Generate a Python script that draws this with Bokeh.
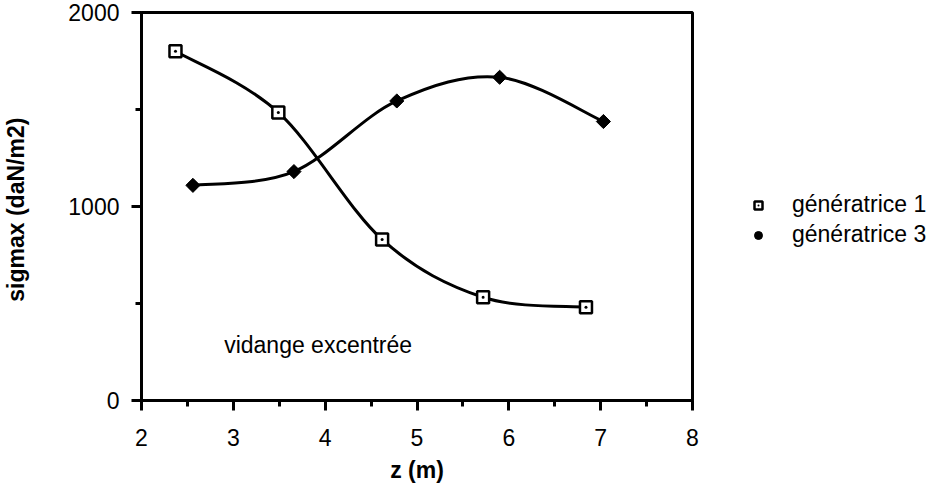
from bokeh.plotting import figure
from bokeh.models import (Range1d, Label, Legend, LegendItem, ColumnDataSource,
                          SingleIntervalTicker)
from bokeh.embed import file_html
from bokeh.resources import INLINE
import math

# ---- data ----
z_g1 = [2.37, 3.49, 4.62, 5.72, 6.84]
s_g1 = [1800, 1485, 830, 532, 481]
z_g3 = [2.56, 3.66, 4.78, 5.90, 7.03]
s_g3 = [1109, 1180, 1544, 1666, 1438]
label_g1 = "génératrice 1"
label_g3 = "génératrice 3"
x_label = "z (m)"
y_label = "sigmax  (daN/m2)"
note = "vidange excentrée"

FONT = "Liberation Sans"
FS = "23px"


def smooth_segments(xs, ys):
    """Catmull-Rom smoothing expressed as cubic Bezier control points."""
    n = len(xs)
    d = dict(x0=[], y0=[], x1=[], y1=[], cx0=[], cy0=[], cx1=[], cy1=[])
    for i in range(n - 1):
        im = max(i - 1, 0)
        ip = min(i + 2, n - 1)
        d["x0"].append(xs[i]); d["y0"].append(ys[i])
        d["x1"].append(xs[i + 1]); d["y1"].append(ys[i + 1])
        d["cx0"].append(xs[i] + (xs[i + 1] - xs[im]) / 6.0)
        d["cy0"].append(ys[i] + (ys[i + 1] - ys[im]) / 6.0)
        d["cx1"].append(xs[i + 1] - (xs[ip] - xs[i]) / 6.0)
        d["cy1"].append(ys[i + 1] - (ys[ip] - ys[i]) / 6.0)
    return ColumnDataSource(d)


p = figure(frame_width=551, frame_height=388,
           x_range=Range1d(2, 8), y_range=Range1d(0, 2000),
           output_backend="svg", toolbar_location=None,
           min_border_left=135, min_border_right=244,
           min_border_top=12, min_border_bottom=60)

p.grid.visible = False
p.outline_line_color = "black"
p.outline_line_width = 3
p.background_fill_color = "white"
p.border_fill_color = "white"

p.xaxis.ticker = SingleIntervalTicker(interval=1, num_minor_ticks=2)
p.yaxis.ticker = SingleIntervalTicker(interval=1000, num_minor_ticks=2)

for ax in (p.xaxis[0], p.yaxis[0]):
    ax.axis_line_width = 3
    ax.axis_line_color = "black"
    ax.major_tick_line_width = 3
    ax.minor_tick_line_width = 3
    ax.major_tick_in = 0
    ax.major_tick_out = 10
    ax.minor_tick_in = 0
    ax.minor_tick_out = 6
    ax.major_label_text_font = FONT
    ax.major_label_text_font_size = FS
    ax.major_label_text_color = "black"
    ax.axis_label_text_font = FONT
    ax.axis_label_text_font_size = FS
    ax.axis_label_text_font_style = "bold"
    ax.axis_label_text_color = "black"

p.xaxis.axis_label = x_label
p.yaxis.axis_label = y_label
p.xaxis.major_label_standoff = 18
p.xaxis.axis_label_standoff = 8
p.yaxis.major_label_standoff = 12
p.yaxis.axis_label_standoff = 36

# smoothed curves
p.bezier(x0="x0", y0="y0", x1="x1", y1="y1", cx0="cx0", cy0="cy0",
         cx1="cx1", cy1="cy1", source=smooth_segments(z_g1, s_g1),
         line_color="black", line_width=3)
p.bezier(x0="x0", y0="y0", x1="x1", y1="y1", cx0="cx0", cy0="cy0",
         cx1="cx1", cy1="cy1", source=smooth_segments(z_g3, s_g3),
         line_color="black", line_width=3)

# markers
r1 = p.scatter(z_g1, s_g1, marker="square_dot", size=12, fill_color="white",
               line_color="black", line_width=2.5)
# round dot used for the legend symbol; it sits hidden under the diamonds
r3_leg = p.scatter(z_g3, s_g3, marker="circle", size=9.5, fill_color="black",
                   line_color="black", line_width=1)
r3 = p.scatter(z_g3, s_g3, marker="square", angle=math.pi / 4, size=10,
               fill_color="black", line_color="black", line_width=1)

legend = Legend(items=[LegendItem(label=label_g1, renderers=[r1]),
                       LegendItem(label=label_g3, renderers=[r3_leg])],
                location=(56, 152), border_line_color=None,
                background_fill_alpha=0, padding=0, margin=0, spacing=3,
                glyph_width=20, glyph_height=20, label_height=20,
                label_standoff=24, label_text_font=FONT,
                label_text_font_size=FS, label_text_color="black")
p.add_layout(legend, "right")

p.add_layout(Label(x=2.9, y=285, text=note, text_font=FONT,
                   text_font_size=FS, text_baseline="middle",
                   text_align="left", text_color="black"))

open("out.html", "w").write(file_html(p, INLINE))
